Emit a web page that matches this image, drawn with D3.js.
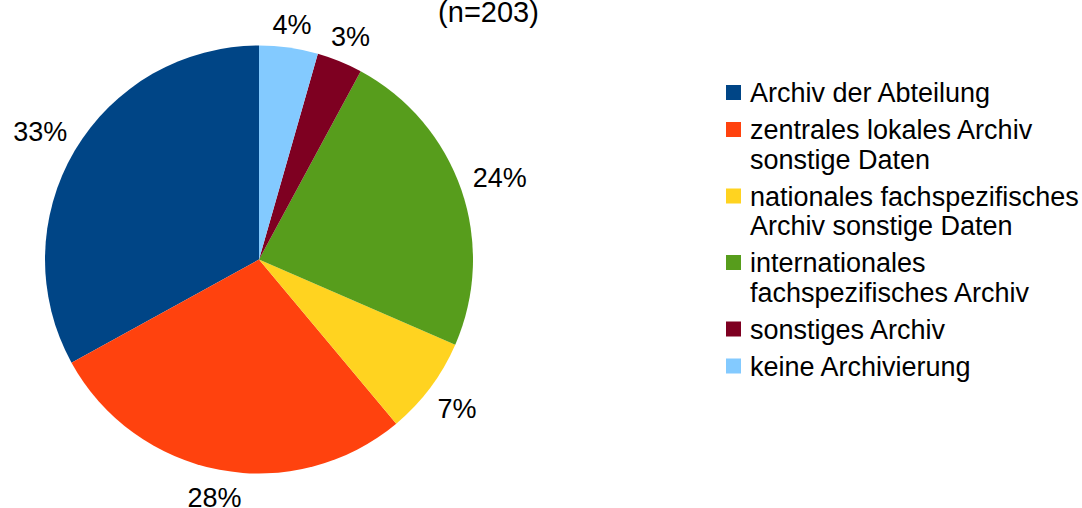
<!DOCTYPE html>
<html>
<head>
<meta charset="utf-8">
<script src="https://cdn.jsdelivr.net/npm/d3@7"></script>
<style>
  body { margin: 0; background: #fff; }
  text { font-family: "Liberation Sans", Arial, sans-serif; fill: #000; }
</style>
</head>
<body>
<div id="chart"></div>
<script>
var categories = [
  ["Archiv der Abteilung"],
  ["zentrales lokales Archiv", "sonstige Daten"],
  ["nationales fachspezifisches", "Archiv sonstige Daten"],
  ["internationales", "fachspezifisches Archiv"],
  ["sonstiges Archiv"],
  ["keine Archivierung"]
];
var counts = [67, 57, 15, 48, 7, 9];
var colors = ["#004586", "#ff420e", "#ffd320", "#579d1c", "#7e0021", "#83caff"];
var title = "(n=203)";

var width = 1082,
    height = 508;
var cx = 259, cy = 259.5, radius = 214;
var fs = 27;

var svg = d3.select("#chart").append("svg")
    .attr("width", width)
    .attr("height", height);

var total = d3.sum(counts);
// LibreOffice draws counterclockwise from 12 o'clock
var pie = d3.pie().sort(null).startAngle(0).endAngle(-2 * Math.PI);
var arcs = pie(counts);
var arc = d3.arc().innerRadius(0).outerRadius(radius);

var g = svg.append("g").attr("transform", "translate(" + cx + "," + cy + ")");

g.selectAll("path.slice")
    .data(arcs)
  .enter().append("path")
    .attr("class", "slice")
    .attr("d", arc)
    .attr("fill", function(d, i) { return colors[i]; });

// percentage labels, outside the pie
var labels = g.selectAll("text.pct")
    .data(arcs)
  .enter().append("text")
    .attr("class", "pct")
    .style("font-size", fs + "px")
    .attr("text-anchor", "middle")
    .text(function(d) { return Math.round(d.value / total * 100) + "%"; });

labels.each(function(d) {
  var w = this.getBBox().width;
  var a = (d.startAngle + d.endAngle) / 2;
  var s = Math.sin(a), c = -Math.cos(a);
  var hh = fs * 0.716 / 2;
  var ext = (w / 2) * Math.abs(s) + hh * Math.abs(c);
  var r = 226 + ext;
  d3.select(this)
    .attr("x", r * s)
    .attr("y", r * c + hh + 1);
});

svg.append("text")
    .attr("x", 488.5)
    .attr("y", 22)
    .attr("text-anchor", "middle")
    .style("font-size", "29px")
    .text(title);

// legend
var lineH = 29.5, gap = 37;
var legend = svg.append("g");
var base = 102;
categories.forEach(function(lines, i) {
  var item = legend.append("g");
  item.append("rect")
      .attr("x", 726)
      .attr("y", base - 17)
      .attr("width", 15)
      .attr("height", 15)
      .attr("fill", colors[i]);
  lines.forEach(function(t, j) {
    item.append("text")
        .attr("x", 750)
        .attr("y", base + j * lineH)
        .style("font-size", fs + "px")
        .text(t);
  });
  base += (lines.length - 1) * lineH + gap;
});
</script>
</body>
</html>
